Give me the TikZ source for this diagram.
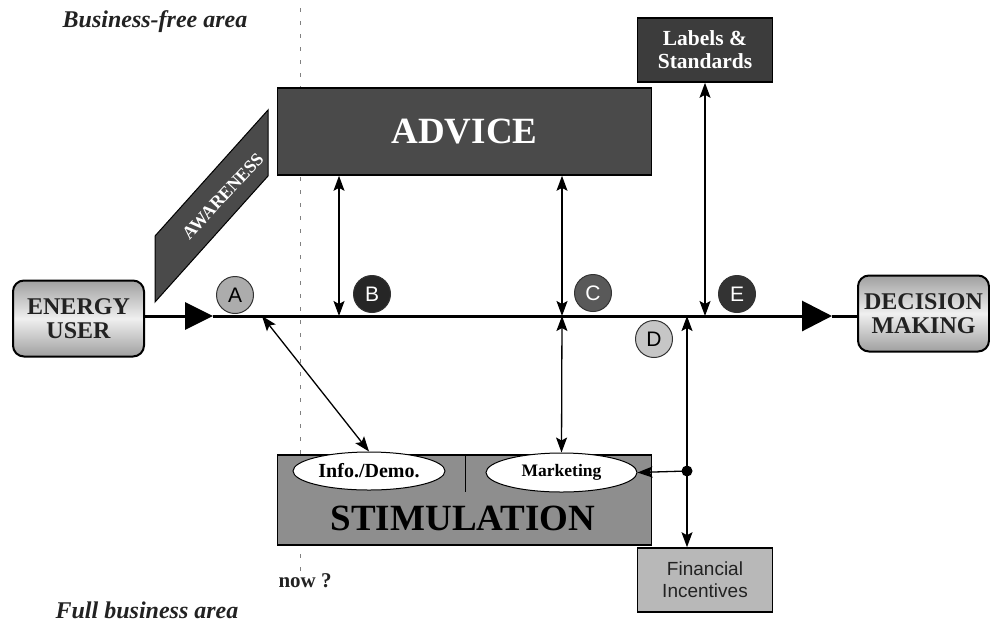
\documentclass[tikz,border=0pt]{standalone}
\usepackage{fontspec}
\setmainfont{Liberation Serif}
\newfontfamily\arialf{Liberation Sans}
\usetikzlibrary{arrows.meta,shapes.geometric}
\definecolor{advfill}{HTML}{4A4A4A}
\definecolor{labfill}{HTML}{3C3C3C}
\definecolor{stimfill}{HTML}{8E8E8E}
\definecolor{finfill}{HTML}{B8B8B8}
\definecolor{txtdark}{HTML}{222222}
\tikzset{
  darkbox/.style={draw=black, line width=1.6pt, fill=advfill, text=white, font=\bfseries, align=center, inner sep=0pt},
  roundbox/.style={draw=black, line width=2pt, rounded corners=11pt, top color=gray!75, bottom color=gray!75, middle color=gray!12, text=txtdark, font=\bfseries\fontsize{24}{24}\selectfont, align=center, inner sep=0pt, minimum width=131pt, minimum height=76pt},
  letter/.style={circle, draw=black!80, line width=1pt, minimum size=37pt, inner sep=0pt, font=\arialf\fontsize{21}{21}\selectfont},
  oval/.style={ellipse, draw=black, line width=1pt, fill=white, inner sep=0pt, font=\bfseries\fontsize{17.5}{17.5}\selectfont},
  mainline/.style={line width=3pt, black},
  dbl/.style={line width=1.3pt, {Stealth[length=15pt,width=11pt,inset=3pt]}-{Stealth[length=15pt,width=11pt,inset=3pt]}},
  sgl/.style={line width=1.3pt, -{Stealth[length=15pt,width=11pt,inset=3pt]}},
  areatext/.style={font=\bfseries\itshape\fontsize{24}{24}\selectfont, text=txtdark}
}
\begin{document}
\begin{tikzpicture}[x=1pt,y=-1pt]
\useasboundingbox (0,0) rectangle (990,625);

% area labels and divider
\node[areatext] (bfree) at (155,22) {Business-free area};
\node[areatext] (fullb) at (147,610) {Full business area};
\draw[gray, line width=1pt, dash pattern=on 4pt off 9pt] (300,8) -- (300,575);
\node[font=\bfseries\fontsize{21}{21}\selectfont, text=txtdark, anchor=west] (now) at (275,581) {now ?};

% awareness
\fill[advfill, draw=black, line width=1pt] (155,302) -- (155,236) -- (268,110) -- (268,176) -- cycle;
\node[rotate=47, text=white, font=\bfseries\fontsize{18}{18}\selectfont] (aw) at (223,196) {AWARENESS};

% boxes
\node[darkbox, minimum width=374pt, minimum height=87pt, font=\bfseries\fontsize{37}{37}\selectfont] (adv) at (464.5,131.5) {ADVICE};
\node[darkbox, fill=labfill, minimum width=135pt, minimum height=64pt, font=\bfseries\fontsize{21.5}{23}\selectfont] (lab) at (705,50) {Labels \&\\Standards};
\node[draw=black, line width=1.6pt, fill=stimfill, minimum width=374pt, minimum height=90pt, inner sep=0pt] (stim) at (464.5,500) {};
\node[font=\bfseries\fontsize{37}{37}\selectfont, text=black] (stimt) at (463,518) {STIMULATION};
\draw[line width=1pt] (465,455) -- (465,492);
\node[draw=black, line width=1.6pt, fill=finfill, minimum width=135pt, minimum height=64pt, inner sep=0pt, align=center, text=txtdark, font=\arialf\fontsize{19}{22}\selectfont] (fin) at (705,580) {Financial\\Incentives};

\node[oval, minimum width=152pt, minimum height=38pt, font=\bfseries\fontsize{20}{20}\selectfont] (info) at (369,471) {Info./Demo.};
\node[oval, minimum width=151pt, minimum height=39pt] (mk) at (561.5,472.5) {Marketing};

\node[roundbox] (eu) at (78.5,318.5) {ENERGY\\USER};
\node[roundbox, minimum width=131pt] (dm) at (923.5,313.5) {DECISION\\MAKING};

% main line
\coordinate (a1) at (213,316);
\coordinate (a2) at (832,316);
\draw[mainline, -{Triangle[length=28pt,width=27pt]}] (eu.east |- a1) -- (a1);
\draw[mainline, -{Triangle[length=30pt,width=30pt]}] (a1) -- (a2);
\draw[mainline] (a2) -- (dm.west |- a2);

% letters
\node[letter, fill=gray!65] (cA) at (235,295) {A};
\node[letter, fill=black!85, text=white] (cB) at (372,294) {B};
\node[letter, fill=black!65, text=white] (cC) at (593,293) {C};
\node[letter, fill=gray!45] (cD) at (654,339) {D};
\node[letter, fill=black!80, text=white] (cE) at (737,294) {E};

% connectors
\coordinate (bx) at (339,316);
\coordinate (cx) at (562,316);
\coordinate (ex) at (705,316);
\coordinate (dx) at (687,316);
\coordinate (ax) at (262,316);
\coordinate (dot) at (687,471);
\draw[dbl] (bx |- adv.south) -- (bx);
\draw[dbl] (cx |- adv.south) -- (cx);
\draw[dbl] (cx) -- (mk.north);
\draw[dbl] (ex |- lab.south) -- (ex);
\draw[dbl] (dx) -- (dx |- fin.north);
\draw[dbl] (ax) -- (info.north);
\fill (dot) circle (5.5pt);
\draw[sgl] (dot) -- (mk.east);
\end{tikzpicture}
\end{document}
